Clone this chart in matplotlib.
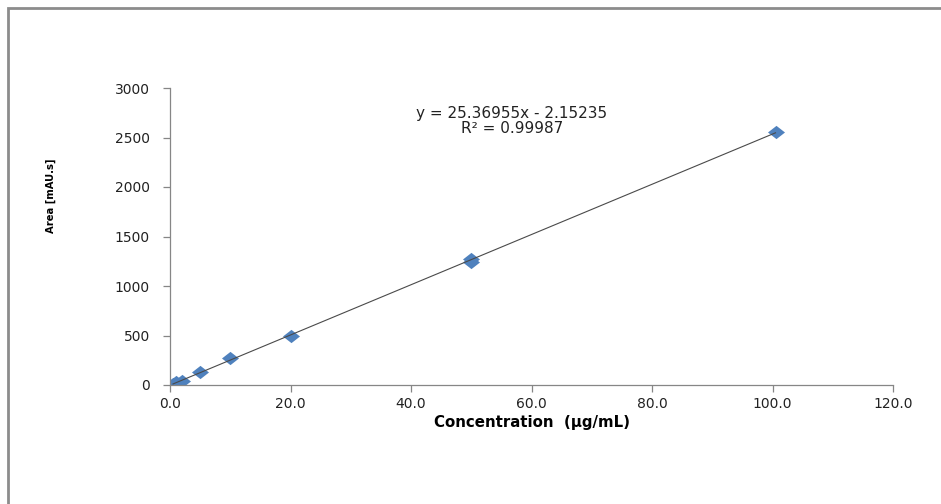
import matplotlib
matplotlib.use("Agg")
import matplotlib.pyplot as plt
from matplotlib.lines import Line2D
import numpy as np

# Data
conc = [0.5, 1.0, 2.0, 5.0, 10.0, 20.0, 50.0, 50.0, 100.5]
area = [15, 28, 45, 128, 272, 497, 1245, 1268, 2558]
slope = 25.36955
intercept = -2.15235
r2 = 0.99987
x_ticks = [0, 20, 40, 60, 80, 100, 120]
y_ticks = [0, 500, 1000, 1500, 2000, 2500, 3000]

plt.rcParams['font.family'] = ['DejaVu Sans']

fig = plt.figure(figsize=(9.41, 5.04), dpi=100)
ax = fig.add_axes([170/941, 1-385/504, (893-170)/941, (385-88)/504])

# trendline
xl = np.array([min(conc), max(conc)])
ax.plot(xl, slope*xl + intercept, color='#4a4a4a', lw=0.8, zorder=3)

diamond = [(-1, 0), (0, 0.78), (1, 0), (0, -0.78), (-1, 0)]
ax.scatter(conc, area, marker=diamond, s=150, color='#4F81BD', zorder=2,
           linewidths=0)

ax.set_xlim(0, 120)
ax.set_ylim(0, 3000)
ax.set_xticks(x_ticks)
ax.set_xticklabels([f"{v:.1f}" for v in x_ticks])
ax.set_yticks(y_ticks)
ax.set_yticklabels([str(v) for v in y_ticks])

for s in ['top', 'right']:
    ax.spines[s].set_visible(False)
for s in ['left', 'bottom']:
    ax.spines[s].set_color('#868686')
    ax.spines[s].set_linewidth(0.9)
ax.tick_params(axis='both', direction='out', length=5, color='#868686',
               labelsize=10, labelcolor='#222222', width=0.9)
ax.tick_params(axis='x', pad=4)
ax.tick_params(axis='y', pad=9.4)

ax.set_xlabel("Concentration  (\u00b5g/mL)", fontsize=10.8, fontweight='bold',
              labelpad=2.5)
ax.set_ylabel("Area [mAU.s]", fontsize=8, fontweight='bold',
              fontstretch='condensed')
ax.yaxis.set_label_coords(-0.157, (385-196)/297)

ax.text(0.473, 0.889, f"y = {slope:.5f}x - {-intercept:.5f}\nR\u00b2 = {r2:.5f}",
        transform=ax.transAxes, ha='center', va='center', fontsize=11,
        color='#222222', linespacing=0.95)

# outer frame (chart area border)
fig.add_artist(Line2D([7.5/941, 7.5/941, 1.0], [0.0, 1-8/504, 1-8/504],
                      transform=fig.transFigure, color='#8c8c8c', lw=2,
                      solid_capstyle='butt', solid_joinstyle='miter'))

fig.savefig("out.png", dpi=100)
